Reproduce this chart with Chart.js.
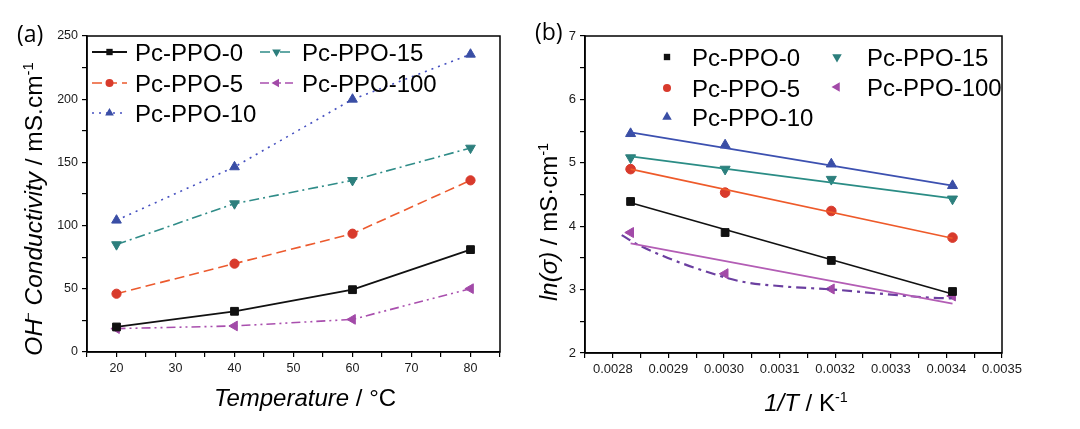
<!DOCTYPE html>
<html>
<head>
<meta charset="utf-8">
<script src="https://cdn.jsdelivr.net/npm/chart.js@4.4.1/dist/chart.umd.min.js"></script>
<style>
html,body{margin:0;padding:0;background:#fff;}
#wrap{position:relative;width:1080px;height:429px;overflow:hidden;font-family:"Liberation Sans",Arial,sans-serif;color:#000;}
canvas{position:absolute;top:0;}
#c1{left:0;}
#c2{left:540px;}
.lbl{position:absolute;white-space:nowrap;font-size:24px;line-height:1;}
.rot{transform:translate(-50%,-50%) rotate(-90deg);}
.hc{transform:translateX(-50%);}
sup{font-size:60%;vertical-align:0;position:relative;top:-0.6em;}
.panel{font-family:"Open Sans","Liberation Sans",Arial,sans-serif;font-size:23px;}
</style>
</head>
<body>
<div id="wrap">
  <canvas id="c1" width="540" height="429"></canvas>
  <canvas id="c2" width="540" height="429"></canvas>
  <div class="lbl panel" style="left:17px;top:22px;">(a)</div>
  <div class="lbl panel" style="left:535px;top:20px;">(b)</div>
  <div class="lbl rot" style="left:34px;top:209px;font-size:24.5px;"><i>OH<sup style="margin-left:-2px;">−</sup> Conductivity</i> / mS.cm<sup>-1</sup></div>
  <div class="lbl hc" style="left:305px;top:386px;"><i>Temperature</i> / °C</div>
  <div class="lbl rot" style="left:549px;top:222px;"><i>ln(σ)</i> / mS·cm<sup>-1</sup></div>
  <div class="lbl hc" style="left:806px;top:391px;"><i>1/T</i> / K<sup>-1</sup></div>
</div>
<script>
// ---------- data (a) ----------
const temperatures = [20, 40, 60, 80];
const cond0   = [19.8, 32.2, 49.3, 81.0];
const cond5   = [46.1, 69.9, 93.6, 135.8];
const cond10  = [104.2, 146.4, 199.9, 235.5];
const cond15  = [85.0, 117.4, 135.8, 161.4];
const cond100 = [18.5, 20.6, 25.8, 50.1];
const seriesNames = ['Pc-PPO-0', 'Pc-PPO-5', 'Pc-PPO-10', 'Pc-PPO-15', 'Pc-PPO-100'];

// ---------- data (b) ----------
const invT   = [0.002832, 0.003002, 0.003193, 0.003411];
const ln0    = [4.39, 3.90, 3.46, 2.97];
const ln5    = [4.90, 4.53, 4.24, 3.82];
const ln10   = [5.46, 5.28, 4.98, 4.64];
const ln15   = [5.08, 4.90, 4.74, 4.43];
const ln100  = [3.90, 3.25, 3.01, 2.90];
const fitX   = [0.002832, 0.003411];
const fit0   = [4.37, 2.93];
const fit5   = [4.90, 3.81];
const fit10  = [5.48, 4.64];
const fit15  = [5.10, 4.44];
const fit100 = [3.73, 2.78];
const curveX = [0.002816, 0.002845, 0.002899, 0.002959, 0.003030, 0.003108, 0.003198, 0.003288, 0.003377, 0.003413];
const curveY = [3.86, 3.71, 3.50, 3.31, 3.13, 3.05, 3.00, 2.93, 2.87, 2.86];

// ---------- axis tick definitions ----------
const tempTicks = [20, 30, 40, 50, 60, 70, 80];
const condTicks = [0, 50, 100, 150, 200, 250];
const lnTicks = [2, 3, 4, 5, 6, 7];

const pts = (xs, ys) => xs.map((x, i) => ({x: x, y: ys[i]}));

const FONT = '"Liberation Sans", Arial, sans-serif';
const tickFontA = {family: FONT, size: 12.5};
const tickFontB = {family: FONT, size: 13};

function drawMarker(ctx, style, x, y, r, rot, color) {
  ctx.save();
  ctx.translate(x, y);
  ctx.rotate((rot || 0) * Math.PI / 180);
  ctx.fillStyle = color;
  ctx.setLineDash([]);
  ctx.beginPath();
  if (style === 'rect') {
    const s = r * Math.SQRT1_2;
    ctx.rect(-s, -s, 2 * s, 2 * s);
  } else if (style === 'circle') {
    ctx.arc(0, 0, r, 0, Math.PI * 2);
  } else {
    ctx.moveTo(0, -r);
    ctx.lineTo(r * 0.866, r * 0.5);
    ctx.lineTo(-r * 0.866, r * 0.5);
    ctx.closePath();
  }
  ctx.fill();
  ctx.restore();
}

const framePlugin = {
  id: 'frame',
  beforeDatasetsDraw(chart) {
    const a = chart.chartArea, ctx = chart.ctx;
    ctx.save();
    ctx.strokeStyle = '#000';
    ctx.lineWidth = 1.5;
    ctx.setLineDash([]);
    ctx.strokeRect(a.left, a.top, a.right - a.left, a.bottom - a.top);
    ctx.restore();
  }
};

const legendPlugin = {
  id: 'miniLegend',
  afterDraw(chart, args, opts) {
    const ctx = chart.ctx;
    (opts.items || []).forEach(it => {
      const ds = chart.data.datasets[it.ds];
      ctx.save();
      if (it.w) {
        ctx.strokeStyle = ds.borderColor;
        ctx.lineWidth = ds.borderWidth;
        ctx.setLineDash(ds.borderDash || []);
        ctx.beginPath();
        ctx.moveTo(it.x, it.y);
        ctx.lineTo(it.x + it.w, it.y);
        ctx.stroke();
      }
      const mx = it.w ? it.x + it.w / 2 : it.x;
      drawMarker(ctx, ds.pointStyle, mx, it.y, it.r, ds.pointRotation, ds.pointBackgroundColor);
      ctx.fillStyle = '#000';
      ctx.font = '24px ' + FONT;
      ctx.textBaseline = 'alphabetic';
      ctx.fillText(ds.label, it.tx, it.y + 8.6);
      ctx.restore();
    });
  }
};

function axisCommon() {
  return {
    grid: {drawOnChartArea: false, drawTicks: true, tickLength: 5, color: '#000', lineWidth: 1.2},
    border: {display: true, color: '#000', width: 1.5}
  };
}

// ---------- chart (a) ----------
function lineDs(label, ys, color, pColor, dash, style, rot, r, bw) {
  return {
    label: label, data: pts(temperatures, ys), showLine: true,
    borderColor: color, borderWidth: bw || 1.6, borderDash: dash,
    pointStyle: style, pointRotation: rot, pointRadius: r,
    pointBackgroundColor: pColor, pointBorderColor: pColor, pointBorderWidth: 1,
    tension: 0
  };
}

new Chart(document.getElementById('c1'), {
  type: 'line',
  data: {
    datasets: [
      lineDs(seriesNames[0], cond0, '#111111', '#111111', [], 'rect', 0, 5.5, 1.8),
      lineDs(seriesNames[1], cond5, '#ec5a2e', '#d83a2c', [10, 5], 'circle', 0, 4.6),
      lineDs(seriesNames[2], cond10, '#4550c0', '#3a4ea5', [2, 5], 'triangle', 0, 5.6),
      lineDs(seriesNames[3], cond15, '#2f8c88', '#2d7f7d', [10, 4, 2, 4], 'triangle', 180, 5.6),
      lineDs(seriesNames[4], cond100, '#a94fae', '#a24aa8', [9, 4, 2, 4, 2, 4], 'triangle', -90, 5.6)
    ]
  },
  plugins: [framePlugin, legendPlugin],
  options: {
    responsive: false, animation: false, devicePixelRatio: 1,
    layout: {padding: {top: 36, right: 40, left: 0, bottom: 0}},
    plugins: {
      legend: {display: false}, tooltip: {enabled: false},
      miniLegend: {items: [
        {ds: 0, x: 92, y: 52, w: 35, tx: 135, r: 4.5},
        {ds: 1, x: 92, y: 83, w: 35, tx: 135, r: 4},
        {ds: 2, x: 92, y: 113, w: 35, tx: 135, r: 5},
        {ds: 3, x: 260, y: 52, w: 33, tx: 302, r: 5},
        {ds: 4, x: 260, y: 83, w: 33, tx: 302, r: 5}
      ]}
    },
    scales: {
      x: Object.assign(axisCommon(), {
        type: 'linear', min: 15, max: 85,
        afterFit: s => { s.height = 77; },
        ticks: {stepSize: 5, autoSkip: false, maxRotation: 0, padding: 4, color: '#1a1a1a', font: tickFontA,
          callback: v => tempTicks.includes(v) ? String(v) : ''}
      }),
      y: Object.assign(axisCommon(), {
        type: 'linear', min: 0, max: 250,
        afterFit: s => { s.width = 87; },
        ticks: {stepSize: 25, autoSkip: false, padding: 4, color: '#1a1a1a', font: tickFontA,
          callback: v => condTicks.includes(v) ? String(v) : ''}
      })
    }
  }
});

// ---------- chart (b) ----------
function scatterDs(label, ys, color, style, rot, r) {
  return {
    label: label, data: pts(invT, ys), showLine: false,
    borderColor: color, borderWidth: 0,
    pointStyle: style, pointRotation: rot, pointRadius: r,
    pointBackgroundColor: color, pointBorderColor: color, pointBorderWidth: 1
  };
}
function fitDs(ys, color) {
  return {
    label: '', data: pts(fitX, ys), showLine: true,
    borderColor: color, borderWidth: 1.7, pointRadius: 0, tension: 0
  };
}

new Chart(document.getElementById('c2'), {
  type: 'line',
  data: {
    datasets: [
      fitDs(fit10, '#3c50b0'),
      fitDs(fit15, '#2a8c85'),
      fitDs(fit5, '#ee5a2a'),
      fitDs(fit0, '#111111'),
      fitDs(fit100, '#b35db5'),
      {label: '', data: pts(curveX, curveY), showLine: true, borderColor: '#6b3fa0', borderWidth: 2.2,
        borderDash: [10, 5, 3, 5], pointRadius: 0, cubicInterpolationMode: 'monotone'},
      scatterDs(seriesNames[0], ln0, '#111111', 'rect', 0, 5.5),
      scatterDs(seriesNames[1], ln5, '#d83a2c', 'circle', 0, 4.8),
      scatterDs(seriesNames[2], ln10, '#3a4ea5', 'triangle', 0, 5.8),
      scatterDs(seriesNames[3], ln15, '#2d7f7d', 'triangle', 180, 5.8),
      scatterDs(seriesNames[4], ln100, '#a24aa8', 'triangle', -90, 5.8)
    ]
  },
  plugins: [framePlugin, legendPlugin],
  options: {
    responsive: false, animation: false, devicePixelRatio: 1,
    layout: {padding: {top: 36, right: 78, left: 0, bottom: 0}},
    plugins: {
      legend: {display: false}, tooltip: {enabled: false},
      miniLegend: {items: [
        {ds: 6, x: 127, y: 57, tx: 152, r: 4.5},
        {ds: 7, x: 127, y: 88, tx: 152, r: 4},
        {ds: 8, x: 127, y: 117, tx: 152, r: 5.5},
        {ds: 9, x: 297, y: 57, tx: 327, r: 5.5},
        {ds: 10, x: 297, y: 87, tx: 327, r: 5.5}
      ]}
    },
    scales: {
      x: Object.assign(axisCommon(), {
        type: 'linear', min: 0.00275, max: 0.0035,
        afterFit: s => { s.height = 76; },
        ticks: {stepSize: 0.00005, autoSkip: false, maxRotation: 0, padding: 4, color: '#1a1a1a', font: tickFontB,
          callback: v => { const k = Math.round(v * 1e5); return (k % 10 === 0) ? (k / 1e5).toFixed(4) : ''; }}
      }),
      y: Object.assign(axisCommon(), {
        type: 'linear', min: 2, max: 7,
        afterFit: s => { s.width = 45; },
        ticks: {stepSize: 0.5, autoSkip: false, padding: 4, color: '#1a1a1a', font: tickFontB,
          callback: v => { const k = Math.round(v * 2) / 2; return lnTicks.includes(k) ? String(k) : ''; }}
      })
    }
  }
});
</script>
</body>
</html>
